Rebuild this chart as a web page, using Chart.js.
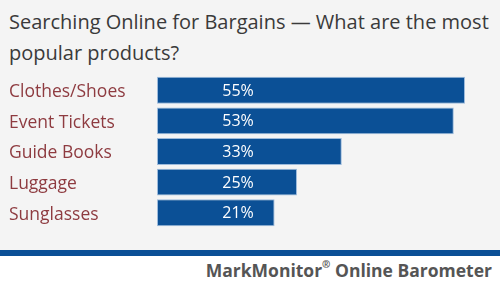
<!DOCTYPE html>
<html>
<head>
<meta charset="utf-8">
<script src="https://cdn.jsdelivr.net/npm/chart.js@4/dist/chart.umd.min.js"></script>
<style>
  html, body { margin: 0; padding: 0; }
  body { width: 500px; height: 285px; background: #fff; position: relative; overflow: hidden; font-family: 'Open Sans', sans-serif; }
  .panel { position: absolute; left: 0; top: 0; width: 500px; height: 250px; background: #f4f4f4; }
  .title { position: absolute; left: 9px; top: 6px; width: 495px; font-size: 20px; line-height: 31px; color: #3a3a3a; }
  .rule { position: absolute; left: 0; top: 250px; width: 500px; height: 6px; background: #0b4f96; }
  .chart-box { position: absolute; left: 0; top: 75px; width: 500px; height: 153px; }
  .footer { position: absolute; right: 8px; top: 258px; font-size: 17.5px; font-weight: bold; color: #555; }
  .footer sup { font-size: 10px; position: relative; top: -2px; }
</style>
</head>
<body>
<div class="panel"></div>
<div class="title">Searching Online for Bargains — What are the most popular products?</div>
<div class="chart-box"><canvas id="chart"></canvas></div>
<div class="rule"></div>
<div class="footer">MarkMonitor<sup>®</sup> Online Barometer</div>
<script>
const categories = ['Clothes/Shoes', 'Event Tickets', 'Guide Books', 'Luggage', 'Sunglasses'];
const shares = [55, 53, 33, 25, 21];
const valueLabels = ['55%', '53%', '33%', '25%', '21%'];

// percent text sits at a fixed spot inside each bar
const barText = {
  id: 'barText',
  afterDatasetsDraw(chart) {
    const ctx = chart.ctx;
    const meta = chart.getDatasetMeta(0);
    ctx.save();
    ctx.fillStyle = '#ffffff';
    ctx.font = '16px "Open Sans"';
    ctx.textAlign = 'center';
    ctx.textBaseline = 'middle';
    meta.data.forEach((bar, i) => {
      ctx.fillText(valueLabels[i], chart.chartArea.left + 81, bar.y + 1);
    });
    ctx.restore();
  },
};

new Chart(document.getElementById('chart'), {
  type: 'bar',
  data: {
    labels: categories,
    datasets: [{
      data: shares,
      backgroundColor: '#0b5096',
      borderColor: '#9dbbdc',
      borderWidth: 1,
      borderSkipped: false,
      categoryPercentage: 1,
      barPercentage: 0.88,
    }],
  },
  options: {
    indexAxis: 'y',
    responsive: true,
    maintainAspectRatio: false,
    animation: false,
    layout: { padding: { left: 9, right: 7, top: 0, bottom: 0 } },
    scales: {
      x: { display: false, min: 0, max: 60 },
      y: {
        grid: { display: false },
        border: { display: false },
        afterFit(axis) {
          axis.width = 148;
          axis.paddingTop = 0;
          axis.paddingBottom = 0;
        },
        ticks: {
          crossAlign: 'far',
          color: '#8e3b40',
          font: { family: 'Open Sans', size: 17.5 },
          padding: 0,
          labelOffset: 2,
        },
      },
    },
    plugins: {
      legend: { display: false },
      tooltip: { enabled: false },
    },
  },
  plugins: [barText],
});
</script>
</body>
</html>
